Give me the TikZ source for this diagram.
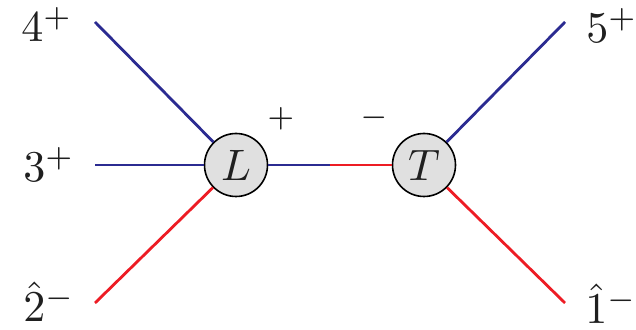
\documentclass[tikz,border=0pt]{standalone}
\usepackage{graphicx}
\definecolor{lblue}{RGB}{43,43,145}
\definecolor{lred}{RGB}{237,28,36}
\definecolor{blobfill}{RGB}{224,224,224}
\newcommand{\bigtxt}[1]{\scalebox{2.2}{#1}}
\begin{document}
\begin{tikzpicture}[x=0.5pt,y=-0.5pt,
  blob/.style={circle,draw=black,line width=0.8pt,fill=blobfill,minimum size=31.5pt,inner sep=0pt,text=black!88},
  lbl/.style={inner sep=0pt,anchor=base west,text=black!88},
  sgn/.style={inner sep=0pt,text=black!88},
  bl/.style={draw=lblue,line width=1.4pt},
  rd/.style={draw=lred,line width=1.4pt}]
\useasboundingbox (0,0) rectangle (636,330);
\coordinate (e4) at (95,22);
\coordinate (e3) at (95,165);
\coordinate (e2) at (95,303);
\coordinate (e5) at (565,22);
\coordinate (e1) at (565,303);
\coordinate (mid) at (330,165);
\node[blob] (L) at (236,165) {\bigtxt{$L$}};
\node[blob] (T) at (424,165) {\bigtxt{$T$}};
\draw[bl] (e4) -- (L);
\draw[bl] (e3) -- (L);
\draw[rd] (e2) -- (L);
\draw[bl] (e5) -- (T);
\draw[rd] (e1) -- (T);
\draw[bl] (L) -- (mid);
\draw[rd] (mid) -- (T);
\node[lbl] (l4) at (21,42) {\bigtxt{$4^+$}};
\node[lbl] (l3) at (23,182) {\bigtxt{$3^+$}};
\node[lbl] (l2) at (23,322) {\bigtxt{$\hat{2}^-$}};
\node[lbl] (l5) at (586,43) {\bigtxt{$5^+$}};
\node[lbl] (l1) at (585,324) {\bigtxt{$\hat{1}^-$}};
\node[sgn] (sp) at (281,119) {\bigtxt{$\scriptstyle +$}};
\node[sgn] (sm) at (374,118) {\bigtxt{$\scriptstyle -$}};
\end{tikzpicture}
\end{document}
